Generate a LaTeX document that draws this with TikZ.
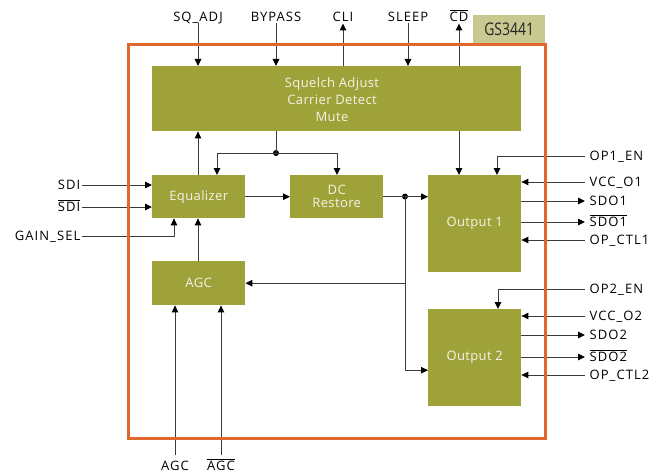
\documentclass[tikz,border=0pt]{standalone}
\usepackage{fontspec}
\setmainfont{Open Sans}[LetterSpace=8]
\newfontfamily\blkfont{Open Sans}[LetterSpace=3]
\newfontfamily\tagfont{Open Sans}[FakeStretch=0.8]
\usetikzlibrary{arrows.meta,calc}
\definecolor{blkc}{HTML}{9EA238}
\definecolor{tagc}{HTML}{C8C891}
\definecolor{framec}{HTML}{E0682C}
\definecolor{linec}{HTML}{3A3A3A}
\definecolor{txtc}{HTML}{F4F4E8}
\begin{document}
\begin{tikzpicture}[x=1pt,y=-1pt,
  blk/.style={fill=blkc, draw=none, anchor=north west, inner sep=0pt, text=txtc, font=\blkfont\fontsize{13}{15}\selectfont, align=center},
  arr/.style={draw=linec, line width=1pt, -{Triangle[length=7pt,width=6.5pt,color=black]}},
  ln/.style={draw=linec, line width=1pt},
  lblf/.style={font=\fontsize{13}{15}\selectfont, text height=9pt, text depth=0pt},
  toplbl/.style={lblf, inner sep=2pt, anchor=south},
  llbl/.style={lblf, inner ysep=0pt, inner xsep=1.5pt, anchor=east},
  rlbl/.style={lblf, inner ysep=0pt, inner xsep=4.5pt, anchor=west},
  botlbl/.style={lblf, inner sep=6pt, anchor=north},
  dot/.style={circle, fill=black, inner sep=0pt, minimum size=6pt}
]
\useasboundingbox (0,0) rectangle (661,476);

% tag
\node[fill=tagc, anchor=north west, minimum width=72pt, minimum height=29pt, inner sep=0pt, text=black!85, font=\tagfont\fontsize{17.5}{19}\selectfont] (tag) at (473,15) {GS3441};

% blocks
\node[blk, minimum width=369pt, minimum height=65pt] (sq) at (152,66) {};
\node[text=txtc, font=\blkfont\fontsize{13}{17}\selectfont, align=center] (sqt) at (332,99.5) {Squelch Adjust\\Carrier Detect\\Mute};
\node[blk, minimum width=93pt, minimum height=43pt] (eq) at (152,175) {Equalizer};
\node[blk, minimum width=93pt, minimum height=43pt] (dc) at (290,175) {DC\\[-2pt]Restore};
\node[blk, minimum width=93pt, minimum height=44pt] (ag) at (152,261) {AGC};
\node[blk, minimum width=93pt, minimum height=97pt] (o1) at (428,175) {Output 1};
\node[blk, minimum width=93pt, minimum height=97pt] (o2) at (428,309) {Output 2};

% top labels
\node[toplbl] (lsq) at (198,23.5) {SQ\_ADJ};
\node[toplbl] (lby) at (276,23.5) {BYPASS};
\node[toplbl] (lcli) at (343,23.5) {CLI};
\node[toplbl] (lsl) at (408,23.5) {SLEEP};
\node[toplbl] (lcd) at (459,23.5) {$\overline{\mbox{CD}}$};

% left labels
\node[llbl] (lsdi) at (82,185) {SDI};
\node[llbl] (lsdib) at (82,207) {$\overline{\mbox{SDI}}$};
\node[llbl] (lgs) at (82,236) {GAIN\_SEL};

% right labels
\node[rlbl] (lop1) at (585,156) {OP1\_EN};
\node[rlbl] (lv1) at (585,182) {VCC\_O1};
\node[rlbl] (ls1) at (585,201) {SDO1};
\node[rlbl] (ls1b) at (585,222) {$\overline{\mbox{SDO1}}$};
\node[rlbl] (lc1) at (585,240) {OP\_CTL1};
\node[rlbl] (lop2) at (585,289) {OP2\_EN};
\node[rlbl] (lv2) at (585,316) {VCC\_O2};
\node[rlbl] (ls2) at (585,335) {SDO2};
\node[rlbl] (ls2b) at (585,357) {$\overline{\mbox{SDO2}}$};
\node[rlbl] (lc2) at (585,375) {OP\_CTL2};

% bottom labels
\node[botlbl] (lagc) at (175,455) {AGC};
\node[botlbl] (lagcb) at (221,455) {$\overline{\mbox{AGC}}$};

% top connectors
\draw[arr] (lsq.south) -- (lsq.south |- sq.north);
\draw[arr] (lby.south) -- (lby.south |- sq.north);
\draw[arr] (lcli.south |- sq.north) -- (lcli.south);
\draw[arr] (lsl.south) -- (lsl.south |- sq.north);
\draw[arr] (lcd.south |- sq.north) -- (lcd.south);

% left connectors
\draw[arr] (lsdi.east) -- (lsdi.east -| eq.west);
\draw[arr] (lsdib.east) -- (lsdib.east -| eq.west);
\draw[arr] (lgs.east) -| ($(eq.south west)+(22,0)$);

% internal
\coordinate (eqx) at ($(eq.north west)+(46,0)$);
\draw[arr] (eqx) -- (eqx |- sq.south);
\draw[arr] (ag.north -| eqx) -- (eq.south -| eqx);
\node[dot] (j1) at (276,153) {};
\draw[ln] (sq.south -| j1) -- (j1.center);
\draw[arr] (j1.center) -| ($(eq.north west)+(65,0)$);
\draw[arr] (j1.center) -| ($(dc.north west)+(47,0)$);
\draw[arr] (eq.east) -- (dc.west);
\node[dot] (j2) at (405,196.5) {};
\draw[arr] (dc.east) -- (dc.east -| o1.west);
\draw[arr] (j2.center) |- ($(o2.west)+(0,12.5)$);
\draw[arr] (j2.center |- ag.east) -- (ag.east);
\draw[arr] (sq.south -| lcd) -- (o1.north -| lcd);

% bottom connectors
\draw[arr] (lagc.north) -- (lagc.north |- ag.south);
\draw[arr] (lagcb.north) -- (lagcb.north |- ag.south);

% right connectors
\draw[arr] (lop1.west) -| ($(o1.north west)+(69,0)$);
\draw[arr] (lv1.west) -- (lv1.west -| o1.east);
\draw[arr] (ls1.west -| o1.east) -- (ls1.west);
\draw[arr] (ls1b.west -| o1.east) -- (ls1b.west);
\draw[arr] (lc1.west) -- (lc1.west -| o1.east);
\draw[arr] (lop2.west) -| ($(o2.north west)+(70,0)$);
\draw[arr] (lv2.west) -- (lv2.west -| o2.east);
\draw[arr] (ls2.west -| o2.east) -- (ls2.west);
\draw[arr] (ls2b.west -| o2.east) -- (ls2b.west);
\draw[arr] (lc2.west) -- (lc2.west -| o2.east);

% chip frame
\node[draw=framec, line width=3pt, anchor=north west, minimum width=417pt, minimum height=393pt, inner sep=0pt, outer sep=0pt] (chip) at (128,45) {};
\end{tikzpicture}
\end{document}
